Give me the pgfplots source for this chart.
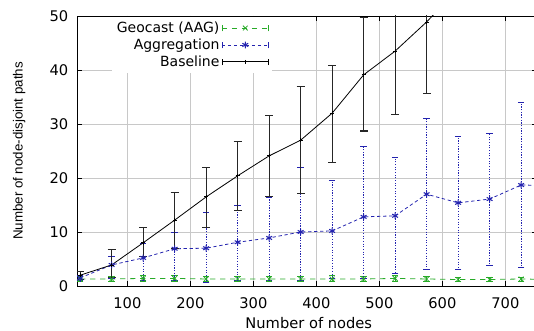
\documentclass[border=0pt]{standalone}
\usepackage{pgfplots}
\pgfplotsset{compat=1.18}
\usepackage{pgfplotstable}
\usepackage{fontspec}
\setmainfont{DejaVu Sans}
\newfontfamily\labfont{Liberation Sans}
\definecolor{gcgreen}{RGB}{40,170,40}
\definecolor{agblue}{RGB}{35,35,175}
\definecolor{gridgray}{RGB}{200,200,200}

\pgfplotstableread{
x y lo hi
25 1.3 0.9 1.8
75 1.3 0.9 1.8
125 1.4 0.9 1.9
175 1.4 0.9 1.9
225 1.3 0.9 1.8
275 1.3 0.9 1.8
325 1.3 0.9 1.8
375 1.3 0.9 1.8
425 1.3 0.8 1.9
475 1.3 0.9 1.8
525 1.4 0.9 1.9
575 1.3 0.9 1.8
625 1.2 0.9 1.6
675 1.2 0.9 1.6
725 1.3 0.9 1.7
775 1.2 0.9 1.6
}\tblgeo

\pgfplotstableread{
x y lo hi
25 1.5 1.0 2.0
75 3.9 1.5 5.5
125 5.2 1.1 8.0
175 6.9 1.0 10.0
225 7.0 0.6 13.7
275 8.1 1.0 15.0
325 8.9 1.0 16.5
375 10.0 1.0 22.0
425 10.2 1.5 19.6
475 12.8 1.5 25.9
525 13.0 2.4 23.9
575 17.0 3.1 31.1
625 15.4 3.1 27.8
675 16.1 3.9 28.3
725 18.7 3.5 34.1
775 18.6 3.5 34.0
}\tblagg

\pgfplotstableread{
x y lo hi
25 2.0 1.2 2.6
75 3.9 1.5 6.7
125 8.0 5.4 10.9
175 12.2 7.0 17.4
225 16.5 10.9 21.9
275 20.4 13.9 26.7
325 24.1 16.5 31.5
375 27.0 17.2 36.9
425 32.0 22.8 40.9
475 39.1 28.7 49.8
525 43.5 31.7 56.0
575 48.9 35.6 62.0
625 55.0 51.0 70.0
}\tblbase

\pgfplotsset{
  errleg/.style={legend image code/.code={
    \draw[##1, mark repeat=2, mark phase=2] plot coordinates {(0pt,0pt) (17.5pt,0pt) (35pt,0pt)};
    \draw[##1, solid, mark=none] (0pt,-2.5pt) -- (0pt,2.5pt) (35pt,-2.5pt) -- (35pt,2.5pt);
  }},
}

\begin{document}
\begin{tikzpicture}
\begin{axis}[
  at={(0pt,0pt)}, anchor=south west,
  scale only axis, width=344.9pt, height=202.5pt,
  xmin=20, xmax=750, ymin=0, ymax=50,
  xtick={100,200,...,700}, ytick={0,10,...,50},
  /pgf/number format/assume math mode=true,
  tick label style={font=\fontsize{11}{13}\selectfont},
  xticklabel style={yshift=-5pt},
  yticklabel style={xshift=-3pt},
  major tick length=4pt,
  tick style={black, line width=0.5pt},
  grid=major,
  major grid style={gridgray, line width=0.7pt},
  axis line style={black, line width=0.7pt},
  xlabel={Number of nodes},
  xlabel style={at={(axis description cs:0.504,0)}, anchor=base, yshift=-32.2pt, font=\fontsize{11}{13}\selectfont},
  ylabel={\labfont Number of node-disjoint paths},
  ylabel style={at={(axis description cs:-0.126,0.5)}, anchor=center, rotate=0, font=\fontsize{10}{12}\selectfont},
  legend style={at={(rel axis cs:0.424,1)}, yshift=-0.5pt, anchor=north east, draw=none, fill=white,
    inner sep=2pt, font=\fontsize{10.5}{12}\selectfont, row sep=0pt,
    nodes={inner sep=1.6pt}},
  legend cell align=right,
  legend plot pos=right,
]
\addplot[gcgreen, line width=0.6pt, dash pattern=on 4pt off 3.5pt, mark=x, mark size=2.5pt,
  mark options={solid}, errleg,
  error bars/.cd, y dir=both, y explicit,
  error bar style={gcgreen, line width=0.6pt, solid},
  error mark options={rotate=90, mark size=2.5pt, gcgreen, solid}]
  table[x=x, y=y, y error plus expr=\thisrow{hi}-\thisrow{y}, y error minus expr=\thisrow{y}-\thisrow{lo}] {\tblgeo};
\addlegendentry{Geocast (AAG)}

\addplot[agblue, line width=0.6pt, dash pattern=on 2.5pt off 2pt, mark=asterisk, mark size=2.5pt,
  mark options={solid, line width=0.8pt}, errleg,
  error bars/.cd, y dir=both, y explicit,
  error bar style={agblue, line width=0.8pt, dash pattern=on 0.9pt off 1.1pt},
  error mark options={rotate=90, mark size=2.5pt, agblue, solid}]
  table[x=x, y=y, y error plus expr=\thisrow{hi}-\thisrow{y}, y error minus expr=\thisrow{y}-\thisrow{lo}] {\tblagg};
\addlegendentry{Aggregation}

\addplot[black, line width=0.6pt, solid, mark=+, mark size=1.5pt, errleg,
  error bars/.cd, y dir=both, y explicit,
  error bar style={black!85, line width=0.8pt},
  error mark options={rotate=90, mark size=3pt, black!85, line width=0.8pt}]
  table[x=x, y=y, y error plus expr=\thisrow{hi}-\thisrow{y}, y error minus expr=\thisrow{y}-\thisrow{lo}] {\tblbase};
\addlegendentry{Baseline}
\end{axis}
\pgfresetboundingbox
\useasboundingbox (-57.75pt,-33.75pt) rectangle (342.75pt,214.5pt);
\end{tikzpicture}
\end{document}
